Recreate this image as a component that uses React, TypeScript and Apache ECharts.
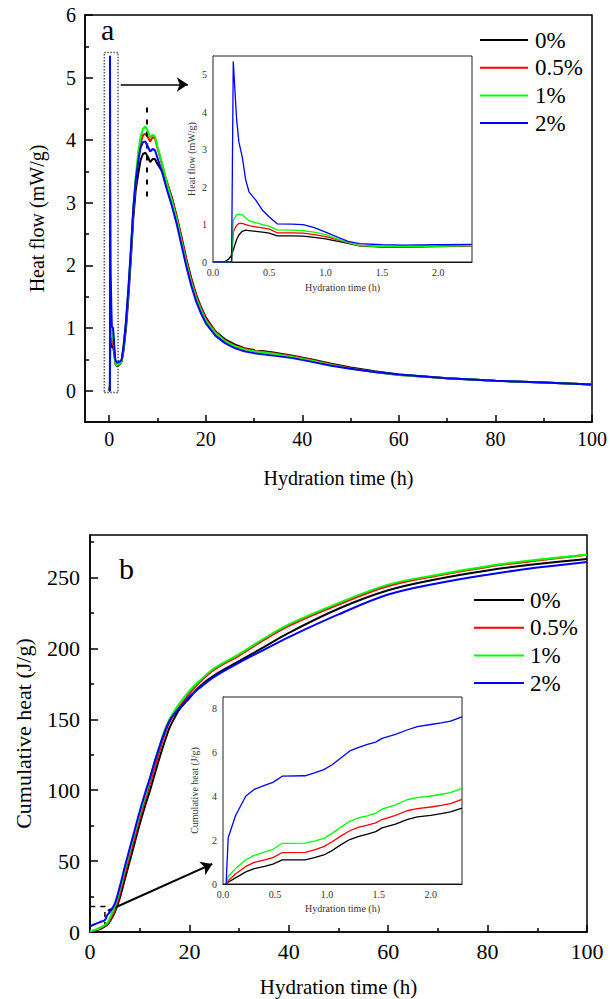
import React, { useEffect, useRef } from "react";
import * as echarts from "echarts";

const FONT = "Liberation Serif, Times New Roman, serif";

const seriesNames = ["0%", "0.5%", "1%", "2%"];
const seriesColors = ["#000000", "#ff0000", "#00ff00", "#0000ff"];

// ---- (a) heat flow, early stage (also the inset), hours ----
const earlyTime = [0, 0.1, 0.14, 0.165, 0.18, 0.21, 0.23, 0.26, 0.29, 0.32, 0.38, 0.44, 0.5, 0.57, 0.7, 0.8, 0.9, 1.0, 1.1, 1.2, 1.3, 1.5, 1.7, 2.0, 2.3];
const earlyBlack = [0, 0, 0.08, 0.18, 0.32, 0.6, 0.72, 0.82, 0.85, 0.84, 0.82, 0.8, 0.77, 0.7, 0.7, 0.69, 0.66, 0.62, 0.56, 0.5, 0.43, 0.4, 0.4, 0.41, 0.43];
const earlyRed = [0, 0, 0, 0, 0.8, 0.98, 1.03, 1.03, 1.0, 0.97, 0.94, 0.91, 0.88, 0.78, 0.78, 0.77, 0.73, 0.68, 0.6, 0.52, 0.44, 0.41, 0.41, 0.42, 0.44];
const earlyGreen = [0, 0, 0, 0, 1.12, 1.26, 1.28, 1.26, 1.18, 1.1, 1.05, 1.0, 0.95, 0.86, 0.85, 0.84, 0.8, 0.73, 0.62, 0.52, 0.44, 0.41, 0.41, 0.42, 0.44];
const earlyBlue = [0, 0, 0, 0, 5.35, 3.8, 3.2, 2.8, 2.2, 1.87, 1.65, 1.38, 1.2, 1.02, 1.01, 1.0, 0.92, 0.8, 0.67, 0.55, 0.49, 0.46, 0.45, 0.46, 0.47];

// ---- (a) heat flow, later stage ----
const mainTime = [2.6, 3, 3.5, 4, 4.5, 5, 5.5, 6, 6.5, 7, 7.5, 8, 8.5, 9, 9.5, 10, 11, 12, 13, 14, 15, 16, 17, 18, 19, 20, 22, 24, 26, 28, 30, 34, 38, 42, 46, 50, 55, 60, 70, 80, 90, 100];
const mainBlack = [0.47, 0.65, 1.0, 1.5, 2.1, 2.75, 3.2, 3.45, 3.68, 3.78, 3.8, 3.74, 3.65, 3.7, 3.7, 3.62, 3.5, 3.32, 3.08, 2.78, 2.45, 2.1, 1.8, 1.54, 1.34, 1.17, 0.95, 0.82, 0.74, 0.68, 0.65, 0.61, 0.56, 0.5, 0.43, 0.37, 0.31, 0.26, 0.2, 0.16, 0.13, 0.1];
const mainRed = [0.48, 0.7, 1.08, 1.6, 2.2, 2.88, 3.35, 3.7, 3.95, 4.08, 4.1, 4.05, 3.98, 4.05, 4.03, 3.88, 3.6, 3.32, 3.07, 2.77, 2.43, 2.08, 1.77, 1.52, 1.32, 1.15, 0.94, 0.8, 0.72, 0.67, 0.64, 0.6, 0.55, 0.49, 0.42, 0.36, 0.3, 0.25, 0.2, 0.16, 0.13, 0.1];
const mainGreen = [0.48, 0.7, 1.1, 1.62, 2.22, 2.9, 3.4, 3.8, 4.05, 4.18, 4.22, 4.15, 4.04, 4.09, 4.06, 3.9, 3.62, 3.3, 3.03, 2.73, 2.38, 2.03, 1.73, 1.48, 1.29, 1.12, 0.92, 0.79, 0.71, 0.66, 0.63, 0.59, 0.54, 0.48, 0.41, 0.35, 0.3, 0.25, 0.2, 0.16, 0.13, 0.1];
const mainBlue = [0.5, 0.72, 1.12, 1.65, 2.25, 2.9, 3.35, 3.65, 3.88, 3.97, 3.98, 3.9, 3.82, 3.86, 3.84, 3.72, 3.48, 3.2, 2.95, 2.66, 2.32, 1.98, 1.68, 1.43, 1.24, 1.08, 0.88, 0.76, 0.68, 0.63, 0.6, 0.56, 0.52, 0.46, 0.4, 0.35, 0.3, 0.26, 0.2, 0.16, 0.13, 0.1];

// ---- (b) cumulative heat ----
const cumTime = [0, 1, 2, 3, 3.5, 4, 5, 6, 7, 8, 9, 10, 11, 12, 13, 14, 15, 16, 17, 18, 20, 22, 25, 30, 35, 40, 50, 60, 70, 80, 90, 100];
const cumBlack = [0, 1, 2, 4, 5, 7.5, 14, 24, 37, 50, 63, 76, 88, 99, 111, 123, 134, 144, 151, 157, 165, 173, 181, 191, 201, 211, 228, 241, 249, 255, 259.5, 263];
const cumRed = [0, 1.2, 2.5, 4.5, 5.5, 8.5, 15.5, 27, 41, 54, 67, 80, 92, 104, 116, 128, 139, 148, 154, 159, 168, 176, 185, 195, 206, 216, 231, 244, 251.5, 257.5, 262, 266];
const cumGreen = [0.5, 1.5, 3, 5, 6.5, 10, 18, 30, 44, 57, 70, 83, 95, 107, 120, 131, 142, 150, 156, 161, 170, 177, 186, 196, 207, 217, 232, 245, 252, 258, 262.5, 266];
const cumBlue = [4, 5.5, 7, 8.5, 12, 14, 20, 32, 46, 59, 72, 85, 97, 108, 120, 131, 141, 149, 154, 158, 166, 172, 180, 190, 199, 208, 224, 238, 246, 252, 257, 261];

// ---- (b) inset, early cumulative heat ----
const cumInsetTime = [0.03, 0.05, 0.12, 0.22, 0.3, 0.4, 0.48, 0.57, 0.79, 0.88, 0.97, 1.05, 1.14, 1.22, 1.3, 1.39, 1.47, 1.53, 1.66, 1.77, 1.87, 2.0, 2.1, 2.19, 2.3];
const cumInsetBlack = [0, 0.08, 0.28, 0.55, 0.7, 0.8, 0.9, 1.1, 1.1, 1.2, 1.32, 1.52, 1.8, 2.02, 2.15, 2.27, 2.38, 2.55, 2.72, 2.93, 3.05, 3.12, 3.2, 3.28, 3.45];
const cumInsetRed = [0, 0.15, 0.45, 0.8, 0.98, 1.1, 1.2, 1.43, 1.44, 1.55, 1.7, 1.92, 2.2, 2.42, 2.57, 2.68, 2.78, 2.93, 3.12, 3.33, 3.43, 3.5, 3.57, 3.65, 3.85];
const cumInsetGreen = [0, 0.35, 0.7, 1.1, 1.3, 1.45, 1.58, 1.85, 1.86, 1.95, 2.07, 2.3, 2.6, 2.85, 3.0, 3.1, 3.22, 3.4, 3.6, 3.83, 3.93, 4.0, 4.08, 4.15, 4.35];
const cumInsetBlue = [0, 2.1, 3.1, 4.0, 4.3, 4.48, 4.62, 4.9, 4.92, 5.05, 5.2, 5.42, 5.75, 6.05, 6.2, 6.35, 6.45, 6.62, 6.8, 7.0, 7.15, 7.25, 7.32, 7.4, 7.6];

// ---- tick values ----
const aXTicks = [0, 20, 40, 60, 80, 100];
const aXMinor = [10, 30, 50, 70, 90];
const aYTicks = [0, 1, 2, 3, 4, 5, 6];
const aYMinor = [0.5, 1.5, 2.5, 3.5, 4.5, 5.5];
const insetXTicks = [0, 0.5, 1, 1.5, 2];
const insetXMinor = [0.25, 0.75, 1.25, 1.75, 2.25];
const aInsetYTicks = [0, 1, 2, 3, 4, 5];
const aInsetYMinor = [0.5, 1.5, 2.5, 3.5, 4.5];
const bYTicks = [0, 50, 100, 150, 200, 250];
const bYMinor = [25, 75, 125, 175, 225, 275];
const bInsetYTicks = [0, 2, 4, 6, 8];
const bInsetYMinor = [1, 3, 5, 7];

const zip = (t: number[], v: number[]) => t.map((x, i) => [x, v[i]]);

function majorAxis(o: any) {
  return {
    type: "value",
    gridIndex: o.grid,
    position: o.position,
    min: o.min,
    max: o.max,
    axisLine: { show: true, onZero: false, lineStyle: { color: "#000", width: o.lw } },
    axisTick: { show: true, inside: true, length: o.tickLen, customValues: o.ticks, lineStyle: { color: "#000", width: o.lw } },
    axisLabel: {
      show: true,
      customValues: o.ticks,
      formatter: o.formatter,
      fontSize: o.fontSize,
      fontFamily: FONT,
      color: o.labelColor || "#000",
      margin: o.margin,
    },
    splitLine: { show: false },
    name: o.name,
    nameLocation: "middle",
    nameGap: o.nameGap,
    nameTextStyle: { fontSize: o.nameSize, fontFamily: FONT, color: o.labelColor || "#000" },
  };
}

function minorAxis(o: any) {
  return {
    type: "value",
    gridIndex: o.grid,
    position: o.position,
    min: o.min,
    max: o.max,
    axisLine: { show: false, onZero: false },
    axisTick: { show: true, inside: true, length: o.tickLen, customValues: o.ticks, lineStyle: { color: "#000", width: o.lw } },
    axisLabel: { show: false },
    splitLine: { show: false },
  };
}

export default function App() {
  const ref = useRef<HTMLDivElement>(null);
  useEffect(() => {
    if (!ref.current) return;
    const chart = echarts.init(ref.current, undefined, { renderer: "svg" });

    const early = [earlyBlack, earlyRed, earlyGreen, earlyBlue];
    const main = [mainBlack, mainRed, mainGreen, mainBlue];
    const cum = [cumBlack, cumRed, cumGreen, cumBlue];
    const cumIn = [cumInsetBlack, cumInsetRed, cumInsetGreen, cumInsetBlue];

    const series: any[] = [];
    seriesNames.forEach((name, i) => {
      const s: any = {
        type: "line",
        name,
        xAxisIndex: 0,
        yAxisIndex: 0,
        data: zip(earlyTime, early[i]).concat(zip(mainTime, main[i])),
        showSymbol: false,
        color: seriesColors[i],
        lineStyle: { color: seriesColors[i], width: 2 },
        z: 3 + i,
      };
      if (i === 0) {
        s.markArea = {
          silent: true,
          itemStyle: { color: "rgba(0,0,0,0)", borderColor: "#555", borderWidth: 1.5, borderType: "dotted" },
          data: [[{ coord: [-1, -0.03] }, { coord: [1.85, 5.4] }]],
        };
        s.markLine = {
          silent: true,
          symbol: ["none", "arrow"],
          symbolSize: 11,
          label: { show: false },
          data: [
            [{ coord: [2.4, 4.89] }, { coord: [16.3, 4.89] }],
            [{ coord: [7.8, 3.1], symbol: "none", lineStyle: { type: [5, 7], width: 2, color: "#000" } }, { coord: [7.8, 4.55], symbol: "none" }],
          ],
          lineStyle: { color: "#000", width: 1.5, type: "solid" },
        };
      }
      series.push(s);
    });

    seriesNames.forEach((name, i) => {
      const s: any = {
        type: "line",
        name,
        xAxisIndex: 2,
        yAxisIndex: 2,
        data: zip(earlyTime, early[i]),
        showSymbol: false,
        color: seriesColors[i],
        lineStyle: { color: seriesColors[i], width: 1.3 },
        z: 10 + i,
      };
      if (i === 0) {
        s.markLine = {
          silent: true,
          symbol: ["none", "none"],
          label: { show: false },
          lineStyle: { color: "#000", width: 1.2, type: [2, 3] },
          data: [{ xAxis: 0.3 }],
        };
      }
      series.push(s);
    });

    seriesNames.forEach((name, i) => {
      const s: any = {
        type: "line",
        name,
        xAxisIndex: 4,
        yAxisIndex: 4,
        data: zip(cumTime, cum[i]),
        showSymbol: false,
        smooth: 0.35,
        color: seriesColors[i],
        lineStyle: { color: seriesColors[i], width: 2 },
        z: 3 + i,
      };
      if (i === 0) {
        s.markArea = {
          silent: true,
          itemStyle: { color: "rgba(0,0,0,0)", borderColor: "#000", borderWidth: 1.5, borderType: [5, 5] },
          data: [[{ coord: [0, 0] }, { coord: [3, 18] }]],
        };
        s.markLine = {
          silent: true,
          symbol: ["none", "arrow"],
          symbolSize: 11,
          label: { show: false },
          lineStyle: { color: "#000", width: 2, type: "solid" },
          data: [[{ coord: [3.6, 15] }, { coord: [24.6, 48] }]],
        };
      }
      series.push(s);
    });

    seriesNames.forEach((name, i) => {
      series.push({
        type: "line",
        name,
        xAxisIndex: 6,
        yAxisIndex: 6,
        data: zip(cumInsetTime, cumIn[i]),
        showSymbol: false,
        color: seriesColors[i],
        lineStyle: { color: seriesColors[i], width: 1.3 },
        z: 10 + i,
      });
    });

    const fmt1 = (v: number) => v.toFixed(1);
    const fmt0 = (v: number) => String(v);

    const option: any = {
      animation: false,
      backgroundColor: "#fff",
      textStyle: { fontFamily: FONT, color: "#000" },
      grid: [
        { left: 85, right: 16, top: 15, height: 407, show: true, borderColor: "#000", borderWidth: 1.5, backgroundColor: "transparent", z: 1 },
        { left: 213, width: 259, top: 56, height: 206, show: true, borderColor: "#222", borderWidth: 1, backgroundColor: "#fff", z: 8 },
        { left: 90, right: 23, top: 535, height: 397, show: true, borderColor: "#000", borderWidth: 1.5, backgroundColor: "transparent", z: 1 },
        { left: 223, width: 239, top: 697, height: 187, show: true, borderColor: "#222", borderWidth: 1, backgroundColor: "#fff", z: 8 },
      ],
      xAxis: [
        majorAxis({ grid: 0, position: "bottom", min: -5, max: 100, lw: 1.5, tickLen: 7, ticks: aXTicks, formatter: fmt0, fontSize: 20, margin: 7, name: "Hydration time (h)", nameGap: 46, nameSize: 20 }),
        minorAxis({ grid: 0, position: "bottom", min: -5, max: 100, lw: 1.5, tickLen: 4, ticks: aXMinor }),
        majorAxis({ grid: 1, position: "bottom", min: 0, max: 2.3, lw: 1, tickLen: 4, ticks: insetXTicks, formatter: fmt1, fontSize: 10, margin: 5, labelColor: "#333", name: "Hydration time (h)", nameGap: 20, nameSize: 10 }),
        minorAxis({ grid: 1, position: "bottom", min: 0, max: 2.3, lw: 1, tickLen: 2, ticks: insetXMinor }),
        majorAxis({ grid: 2, position: "bottom", min: 0, max: 100, lw: 1.5, tickLen: 7, ticks: aXTicks, formatter: fmt0, fontSize: 22, margin: 8, name: "Hydration time (h)", nameGap: 44, nameSize: 21 }),
        minorAxis({ grid: 2, position: "bottom", min: 0, max: 100, lw: 1.5, tickLen: 4, ticks: aXMinor }),
        majorAxis({ grid: 3, position: "bottom", min: 0, max: 2.3, lw: 1, tickLen: 4, ticks: insetXTicks, formatter: fmt1, fontSize: 10, margin: 5, labelColor: "#333", name: "Hydration time (h)", nameGap: 19, nameSize: 10 }),
        minorAxis({ grid: 3, position: "bottom", min: 0, max: 2.3, lw: 1, tickLen: 2, ticks: insetXMinor }),
      ],
      yAxis: [
        majorAxis({ grid: 0, position: "left", min: -0.5, max: 6, lw: 1.5, tickLen: 8, ticks: aYTicks, formatter: fmt0, fontSize: 20, margin: 9, name: "Heat flow (mW/g)", nameGap: 38, nameSize: 20 }),
        minorAxis({ grid: 0, position: "left", min: -0.5, max: 6, lw: 1.5, tickLen: 4, ticks: aYMinor }),
        majorAxis({ grid: 1, position: "left", min: 0, max: 5.5, lw: 1, tickLen: 4, ticks: aInsetYTicks, formatter: fmt0, fontSize: 10, margin: 6, labelColor: "#333", name: "Heat flow (mW/g)", nameGap: 17, nameSize: 10 }),
        minorAxis({ grid: 1, position: "left", min: 0, max: 5.5, lw: 1, tickLen: 2, ticks: aInsetYMinor }),
        majorAxis({ grid: 2, position: "left", min: 0, max: 280, lw: 1.5, tickLen: 8, ticks: bYTicks, formatter: fmt0, fontSize: 22, margin: 10, name: "Cumulative heat (J/g)", nameGap: 56, nameSize: 22 }),
        minorAxis({ grid: 2, position: "left", min: 0, max: 280, lw: 1.5, tickLen: 4, ticks: bYMinor }),
        majorAxis({ grid: 3, position: "left", min: 0, max: 8.5, lw: 1, tickLen: 4, ticks: bInsetYTicks, formatter: fmt0, fontSize: 10, margin: 6, labelColor: "#333", name: "Cumulative heat (J/g)", nameGap: 24, nameSize: 10 }),
        minorAxis({ grid: 3, position: "left", min: 0, max: 8.5, lw: 1, tickLen: 2, ticks: bInsetYMinor }),
      ],
      legend: [
        {
          orient: "vertical", left: 480, top: 28.5, padding: 0, icon: "rect", itemWidth: 48, itemHeight: 2, itemGap: 4.7,
          selectedMode: false, data: seriesNames,
          textStyle: { fontSize: 23, fontFamily: FONT, color: "#000", lineHeight: 23, padding: [0, 0, 0, 2] },
        },
        {
          orient: "vertical", left: 474, top: 588.5, padding: 0, icon: "rect", itemWidth: 50, itemHeight: 2, itemGap: 4.7,
          selectedMode: false, data: seriesNames,
          textStyle: { fontSize: 23, fontFamily: FONT, color: "#000", lineHeight: 23, padding: [0, 0, 0, 1] },
        },
      ],
      graphic: [
        { type: "text", left: 101, top: 14, style: { text: "a", font: `30px ${FONT}`, fill: "#000" } },
        { type: "text", left: 119, top: 553, style: { text: "b", font: `30px ${FONT}`, fill: "#000" } },
      ],
      series,
    };
    chart.setOption(option);
    return () => chart.dispose();
  }, []);
  return <div ref={ref} style={{ position: "fixed", left: 0, top: 0, width: 610, height: 999, background: "#fff" }} />;
}
